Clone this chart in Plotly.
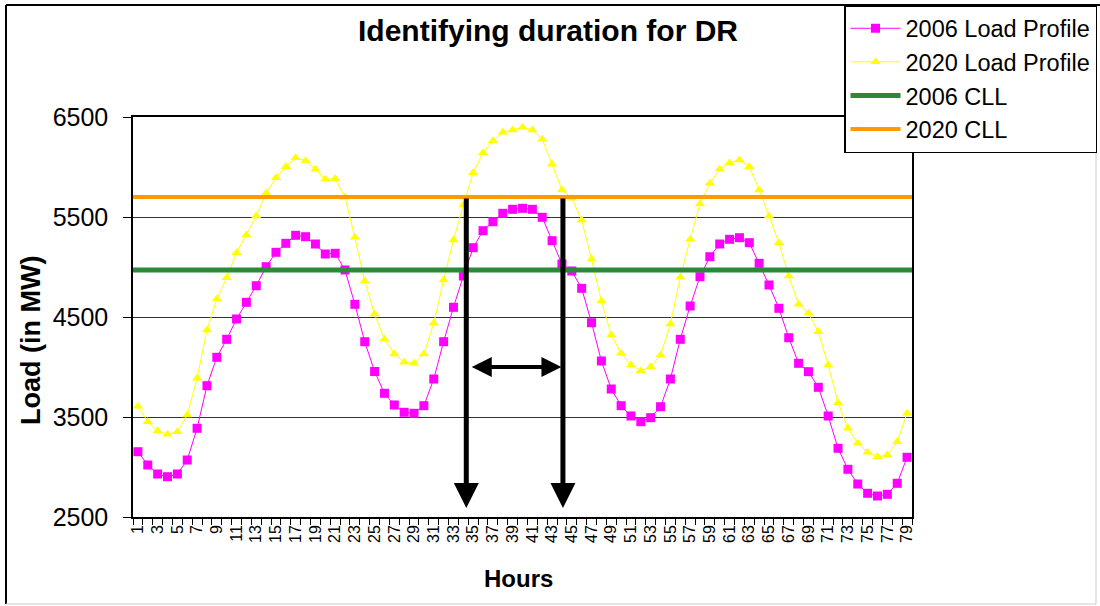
import plotly.graph_objects as go

# ---------------- data ----------------
hours = list(range(1, 80))
load_2006 = [3153, 3020, 2930, 2903, 2930, 3070, 3387, 3813, 4097, 4277,
             4480, 4647, 4813, 5003, 5147, 5237, 5317, 5303, 5230, 5130,
             5137, 4970, 4627, 4253, 3955, 3737, 3620, 3547, 3537, 3613,
             3880, 4253, 4597, 4910, 5193, 5363, 5453, 5537, 5577, 5587,
             5577, 5497, 5263, 5030, 4960, 4787, 4443, 4060, 3780, 3613,
             3510, 3453, 3493, 3603, 3880, 4277, 4610, 4903, 5103, 5230,
             5277, 5293, 5243, 5037, 4820, 4587, 4293, 4037, 3953, 3797,
             3510, 3187, 2977, 2830, 2737, 2710, 2727, 2837, 3097]
load_2020 = [3607, 3453, 3360, 3327, 3353, 3520, 3887, 4370, 4680, 4893,
             5143, 5320, 5510, 5737, 5893, 6003, 6093, 6063, 5977, 5877,
             5883, 5697, 5297, 4860, 4530, 4277, 4130, 4047, 4037, 4130,
             4437, 4870, 5270, 5620, 5943, 6143, 6263, 6347, 6370, 6397,
             6370, 6277, 6027, 5770, 5687, 5470, 5077, 4660, 4320, 4137,
             4020, 3963, 4003, 4120, 4430, 4897, 5277, 5630, 5837, 5977,
             6043, 6070, 6003, 5770, 5510, 5243, 4910, 4627, 4537, 4353,
             4020, 3643, 3387, 3237, 3147, 3103, 3120, 3253, 3537]
cll_2006 = 4970
cll_2020 = 5700
series_names = ["2006 Load Profile", "2020 Load Profile", "2006 CLL", "2020 CLL"]
tick_hours = hours[::2]
tick_labels = [str(h) for h in tick_hours]
y_ticks = [2500, 3500, 4500, 5500, 6500]

# DR duration markers (hours where 2020 load crosses the 2020 CLL)
dr_start = 34.3
dr_end = 44.1
dr_arrow_bottom = 2590
dr_span_level = 4000

# ---------------- figure ----------------
W, H = 1100, 606
ML, MR, MT, MB = 133, 188, 117, 89
PW, PH = W - ML - MR, H - MT - MB


def px_x(px):
    return (px - ML) / PW


def px_y(py):
    return (H - MB - py) / PH


x_lo = hours[0] - 0.5
x_hi = hours[-1] + 0.5

fig = go.Figure()
fig.add_trace(go.Scatter(
    x=hours, y=load_2006, name=series_names[0], mode="lines+markers",
    line=dict(color="#FF00FF", width=1),
    marker=dict(symbol="square", size=9, color="#FF00FF"),
    legendgroup="a"))
fig.add_trace(go.Scatter(
    x=hours, y=load_2020, name=series_names[1], mode="lines+markers",
    line=dict(color="#FFFF00", width=1),
    marker=dict(symbol="triangle-up", size=9, color="#FFFF00"),
    legendgroup="b"))
fig.add_trace(go.Scatter(
    x=[x_lo, x_hi], y=[cll_2006, cll_2006], name=series_names[2], mode="lines",
    line=dict(color="#2A8A3A", width=5), legendgroup="c"))
fig.add_trace(go.Scatter(
    x=[x_lo, x_hi], y=[cll_2020, cll_2020], name=series_names[3], mode="lines",
    line=dict(color="#FF9900", width=4), legendgroup="d"))

font_family = "Liberation Sans, Arial, sans-serif"

annotations = [
    # vertical arrows
    dict(x=dr_start, y=dr_arrow_bottom, ax=dr_start, ay=cll_2020,
         xref="x", yref="y", axref="x", ayref="y", text="", showarrow=True,
         arrowhead=2, arrowsize=1, arrowwidth=5, arrowcolor="black"),
    dict(x=dr_end, y=dr_arrow_bottom, ax=dr_end, ay=cll_2020,
         xref="x", yref="y", axref="x", ayref="y", text="", showarrow=True,
         arrowhead=2, arrowsize=1, arrowwidth=5, arrowcolor="black"),
    # horizontal double arrow
    dict(x=dr_end - 0.15, y=dr_span_level, ax=dr_start + 0.4, ay=dr_span_level,
         xref="x", yref="y", axref="x", ayref="y", text="", showarrow=True,
         arrowhead=2, startarrowhead=2, arrowside="end+start", arrowsize=1,
         startarrowsize=1, arrowwidth=4, arrowcolor="black"),
    # axis titles
    dict(x=px_x(31), y=px_y(340), xref="paper", yref="paper", text="<b>Load (in MW)</b>",
         textangle=-90, xanchor="center", yanchor="middle", showarrow=False,
         font=dict(size=27, color="black", family=font_family)),
    dict(x=px_x(518), y=px_y(578), xref="paper", yref="paper", text="<b>Hours</b>",
         xanchor="center", yanchor="middle", showarrow=False,
         font=dict(size=24, color="black", family=font_family)),
]

shapes = [
    dict(type="line", xref="paper", yref="paper", x0=px_x(6), x1=px_x(6), y0=px_y(5), y1=px_y(604),
         line=dict(color="black", width=2)),
    dict(type="line", xref="paper", yref="paper", x0=px_x(6), x1=px_x(1100), y0=px_y(5), y1=px_y(5),
         line=dict(color="black", width=2)),
    dict(type="line", xref="paper", yref="paper", x0=px_x(1096), x1=px_x(1096), y0=px_y(5), y1=px_y(604),
         line=dict(color="#CCCCCC", width=1)),
    dict(type="line", xref="paper", yref="paper", x0=px_x(6), x1=px_x(1096), y0=px_y(604), y1=px_y(604),
         line=dict(color="#CCCCCC", width=1)),
]

fig.update_layout(
    width=W, height=H, autosize=False,
    margin=dict(l=ML, r=MR, t=MT, b=MB, autoexpand=False),
    paper_bgcolor="white", plot_bgcolor="white",
    font=dict(family=font_family, color="black"),
    title=dict(text="<b>Identifying duration for DR</b>", x=548 / W, xref="container",
               y=1 - 30 / H, yref="container", xanchor="center", yanchor="middle",
               font=dict(size=30, color="black", family=font_family)),
    showlegend=True,
    legend=dict(xref="container", yref="container", x=844 / W, y=1 - 5 / H,
                xanchor="left", yanchor="top", bgcolor="white",
                bordercolor="black", borderwidth=1.5,
                font=dict(size=23.5, color="black", family=font_family),
                tracegroupgap=9, itemwidth=50, traceorder="normal"),
    xaxis=dict(range=[x_lo, x_hi], tickmode="array", tickvals=tick_hours, ticktext=tick_labels,
               tickangle=-90, tickfont=dict(size=16, color="black"), ticks="",
               showgrid=False, zeroline=False, showline=True, linecolor="black",
               linewidth=1.5, mirror=True,
               minor=dict(tickmode="linear", tick0=0.5, dtick=1, ticks="outside",
                          ticklen=6, tickcolor="black", showgrid=False)),
    yaxis=dict(range=[2500, 6500], tickmode="array", tickvals=y_ticks,
               tickfont=dict(size=25, color="black"), ticks="outside", ticklen=8,
               tickcolor="black", showgrid=True, gridcolor="#333333", gridwidth=1,
               zeroline=False, showline=True, linecolor="black", linewidth=1.5, mirror=True,
               ticklabelstandoff=10),
    annotations=annotations,
    shapes=shapes,
)

fig.write_html("out.html")
